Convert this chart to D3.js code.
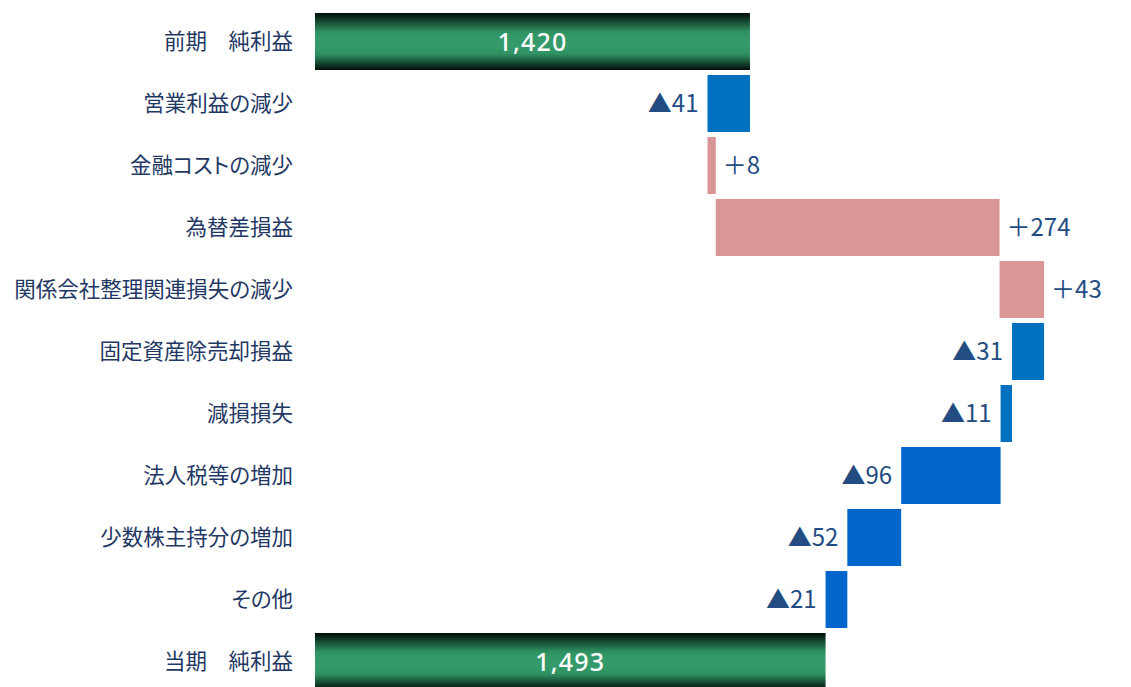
<!DOCTYPE html>
<html>
<head>
<meta charset="utf-8">
<script src="https://cdn.jsdelivr.net/npm/d3@7"></script>
<style>
  html, body { margin: 0; padding: 0; background: #fff; overflow: hidden; }
  svg { display: block; }
</style>
</head>
<body>
<svg id="chart" width="1131" height="687"></svg>
<script>
const categories = ["前期　純利益", "営業利益の減少", "金融コストの減少", "為替差損益", "関係会社整理関連損失の減少", "固定資産除売却損益", "減損損失", "法人税等の増加", "少数株主持分の増加", "その他", "当期　純利益"];
const values = [1420, -41, 8, 274, 43, -31, -11, -96, -52, -21, 1493];
const kinds = ["total", "delta", "delta", "delta", "delta", "delta", "delta", "delta", "delta", "delta", "total"];
const axisDomain = [1000, 1800];

const svg = d3.select("#chart");

const x = d3.scaleLinear().domain(axisDomain).range([315, 1143.5]);
const y = d3.scaleBand().domain(categories).range([10.5, 692.5])
  .paddingInner(5 / 62).paddingOuter(2.5 / 62);

let run = 0;
const rows = categories.map((c, i) => {
  const v = values[i];
  let s, e;
  if (kinds[i] === "total") { s = axisDomain[0]; e = v; run = v; }
  else { s = run; e = run + v; run = e; }
  return { cat: c, v, kind: kinds[i], s, e, i };
});

const defs = svg.append("defs");
const g = defs.append("linearGradient").attr("id", "gtot").attr("x1", 0).attr("y1", 0).attr("x2", 0).attr("y2", 1);
[[0, "#010d07"], [0.33, "#2f9162"], [0.45, "#349a69"], [0.6, "#349a69"], [0.72, "#2f9162"], [1, "#010d07"]]
  .forEach(([o, c]) => g.append("stop").attr("offset", o).attr("stop-color", c));

const decColors = ["#0070C0", "#0070C0", "#0070C0", "#0066CC", "#0066CC", "#0066CC"];
let decIdx = 0;
function fillOf(d) {
  if (d.kind === "total") return "url(#gtot)";
  if (d.v > 0) return "#D99694";
  return decColors[Math.min(decIdx++, decColors.length - 1)];
}

svg.append("g").selectAll("rect").data(rows).join("rect")
  .attr("x", d => x(Math.min(d.s, d.e)))
  .attr("width", d => Math.abs(x(d.e) - x(d.s)))
  .attr("y", d => y(d.cat))
  .attr("height", y.bandwidth())
  .attr("fill", d => fillOf(d));

const font = "'Noto Sans CJK JP', 'Noto Sans', sans-serif";

svg.append("g").selectAll("text").data(rows).join("text")
  .attr("x", 293)
  .attr("y", d => y(d.cat) + y.bandwidth() / 2)
  .attr("dy", "0.35em")
  .attr("text-anchor", "end")
  .attr("font-family", font)
  .attr("font-size", 21.5)
  .style("font-feature-settings", "'palt'")
  .attr("fill", "#1F3864")
  .text(d => d.cat);

const fmt = d3.format(",");
const vlab = svg.append("g").selectAll("text").data(rows).join("text")
  .attr("x", d => {
    if (d.kind === "total") return (x(d.s) + x(d.e)) / 2;
    if (d.v > 0) return x(d.e) + 7;
    return x(d.e) - 9;
  })
  .attr("y", d => y(d.cat) + y.bandwidth() / 2)
  .attr("dy", "0.36em")
  .attr("text-anchor", d => d.kind === "total" ? "middle" : (d.v > 0 ? "start" : "end"))
  .attr("font-family", d => d.kind === "total" ? "'Noto Sans', sans-serif" : font)
  .attr("font-size", d => d.kind === "total" ? 25 : 24)
  .attr("font-weight", d => d.kind === "total" ? 500 : 400)
  .attr("letter-spacing", d => d.kind === "total" ? 1.2 : 0)
  .attr("fill", d => d.kind === "total" ? "#ffffff" : "#234D82")
  .text(d => d.kind === "total" ? fmt(d.v) : (d.v > 0 ? "＋" + d.v : "▲" + Math.abs(d.v)));
</script>
</body>
</html>
